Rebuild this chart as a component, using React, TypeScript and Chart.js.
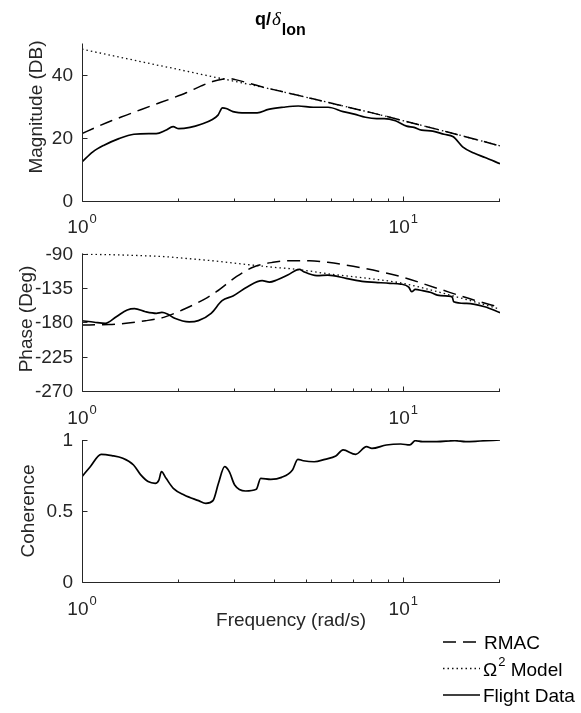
import React, { useEffect, useRef } from 'react';
import { Chart, registerables } from 'chart.js';

Chart.register(...registerables);

const FONT_FAMILY = '"Liberation Sans", Arial, Helvetica, sans-serif';
const INK = '#262626';
const LINE = '#000000';

// Shared log frequency axis (rad/s)
const freqMin = 1;
const freqMax = 20;
const freqMajorTicks = [1, 10];
const freqMajorExponents = ['0', '1'];
const freqMinorTicks = [2, 3, 4, 5, 6, 7, 8, 9, 20];

// Magnitude panel (dB)
const magTicks = [0, 20, 40];
const magTickLabels = ['0', '20', '40'];
const magModelFreq = [1.0, 1.11, 1.235, 1.375, 1.53, 1.7, 1.9, 2.11, 2.35, 2.55, 2.76, 2.85, 3.0, 3.6, 4.7, 6.2, 8.0, 10.1, 13.75, 20];
const magRmac = [21.3, 23.4, 25.4, 27.2, 29.0, 30.7, 32.5, 34.3, 36.5, 37.9, 38.7, 38.9, 38.5, 36.3, 33.5, 30.6, 27.9, 25.3, 21.8, 17.4];
const magOmega2 = [48.2, 47.2, 46.2, 45.2, 44.2, 43.2, 42.2, 41.2, 40.2, 39.4, 38.7, 38.4, 37.9, 36.2, 33.5, 30.6, 27.9, 25.3, 21.8, 17.4];
const magFlightFreq = [1.0, 1.081, 1.171, 1.303, 1.451, 1.615, 1.703, 1.822, 1.921, 2.001, 2.168, 2.349, 2.546, 2.65, 2.737, 2.811, 2.95, 3.239, 3.51, 3.804, 4.234, 4.712, 5.245, 5.837, 6.497, 7.04, 7.63, 8.265, 8.72, 9.452, 10.24, 10.8, 11.4, 12.35, 13.39, 14.31, 15.3, 16.58, 17.97, 20.0];
const magFlight = [12.3, 15.5, 17.6, 19.7, 21.1, 21.3, 21.3, 22.4, 23.5, 22.9, 23.3, 24.3, 25.8, 27.2, 29.5, 29.3, 28.3, 27.9, 27.9, 29.0, 29.7, 30.1, 29.7, 29.7, 28.3, 27.5, 26.5, 26.1, 26.1, 25.4, 23.7, 23.3, 22.4, 22.1, 21.1, 20.3, 17.1, 15.1, 13.7, 11.7];

// Phase panel (deg)
const phaseTicks = [-90, -135, -180, -225, -270];
const phaseTickLabels = ['-90', '-135', '-180', '-225', '-270'];
const phaseModelFreq = [1.0, 1.213, 1.576, 1.796, 2.05, 2.4, 2.62, 3.03, 3.45, 3.93, 4.48, 5.11, 5.82, 7.56, 9.82, 12.76, 16.57, 20];
const phaseRmac = [-183.5, -183, -178, -173.6, -164, -150, -140, -120, -107, -101.6, -99.4, -99.4, -101.6, -109.4, -120.3, -135.6, -150.9, -160.5];
const phaseOmega2 = [-91, -91.5, -93, -94, -96, -98.5, -100, -103, -105.5, -108, -110, -113, -116.5, -122, -128.5, -140, -153, -163];
const phaseFlightFreq = [1.0, 1.093, 1.182, 1.279, 1.383, 1.457, 1.576, 1.704, 1.773, 1.844, 1.943, 2.157, 2.302, 2.523, 2.729, 2.951, 3.277, 3.637, 3.832, 4.038, 4.368, 4.75, 4.9, 5.384, 5.824, 6.636, 7.562, 8.181, 9.084, 9.822, 10.4, 10.62, 10.9, 11.49, 12.2, 12.76, 13.8, 14.2, 14.35, 15.73, 17.92, 20];
const phaseFlight = [-178, -180, -181.4, -172.7, -164, -162.2, -166.2, -168.3, -167.2, -169.2, -174.8, -179.5, -177.9, -168.3, -151.7, -145.6, -133.4, -125.6, -127.5, -124.7, -118.2, -110.7, -113.8, -119, -118.2, -122.5, -126.9, -127.8, -129.1, -130, -134, -140, -137, -138.7, -141, -144.4, -145.7, -147, -153.1, -155.3, -159.7, -167.4];

// Coherence panel
const cohTicks = [0, 0.5, 1];
const cohTickLabels = ['0', '0.5', '1'];
const cohFreq = [1.0, 1.061, 1.147, 1.239, 1.34, 1.447, 1.524, 1.606, 1.691, 1.735, 1.767, 1.827, 1.924, 2.08, 2.306, 2.429, 2.557, 2.659, 2.779, 2.873, 2.987, 3.228, 3.488, 3.599, 3.869, 4.181, 4.519, 4.697, 4.885, 5.279, 5.705, 6.166, 6.494, 7.108, 7.682, 7.985, 8.859, 9.819, 10.48, 10.89, 11.47, 12.72, 14.47, 15.64, 17.35, 20];
const cohFlight = [0.742, 0.812, 0.899, 0.89, 0.871, 0.824, 0.754, 0.707, 0.695, 0.718, 0.777, 0.73, 0.66, 0.613, 0.573, 0.554, 0.573, 0.695, 0.812, 0.777, 0.683, 0.641, 0.653, 0.73, 0.723, 0.737, 0.789, 0.864, 0.854, 0.847, 0.864, 0.887, 0.93, 0.899, 0.953, 0.941, 0.965, 0.972, 0.965, 0.995, 0.988, 0.988, 0.995, 0.988, 0.993, 1.0];

// Series names
const seriesRmac = 'RMAC';
const seriesOmega = 'Model';
const seriesFlight = 'Flight Data';

const rmacStyle = { borderColor: LINE, borderWidth: 1.5, borderDash: [13, 7], cubicInterpolationMode: 'monotone' as const };
const omegaStyle = { borderColor: '#111111', borderWidth: 1.3, borderDash: [1.5, 3], cubicInterpolationMode: 'monotone' as const };
const flightStyle = { borderColor: LINE, borderWidth: 1.7, cubicInterpolationMode: 'monotone' as const };

const toPoints = (xs: number[], ys: number[]) => xs.map((x, i) => ({ x, y: ys[i] }));

const CANVAS_W = 581;
const AREA_LEFT = 82;
const AREA_RIGHT = 500;

type Panel = {
  key: string;
  top: number;
  height: number;
  areaTop: number; // page coordinates
  areaBottom: number;
  yMin: number;
  yMax: number;
  yTicks: number[];
  yTickLabels: string[];
  yTitle: string;
  yTitleBaselineX: number;
  yTitleCenterY: number; // page coordinates
  datasets: any[];
  extra?: (ctx: CanvasRenderingContext2D, chart: Chart, panel: Panel) => void;
};

function drawPow10(ctx: CanvasRenderingContext2D, cx: number, baseline: number, exp: string) {
  ctx.font = `19px ${FONT_FAMILY}`;
  const wBase = ctx.measureText('10').width;
  ctx.font = `13px ${FONT_FAMILY}`;
  const wExp = ctx.measureText(exp).width;
  const x0 = cx - (wBase + wExp + 1) / 2;
  ctx.textAlign = 'left';
  ctx.textBaseline = 'alphabetic';
  ctx.font = `19px ${FONT_FAMILY}`;
  ctx.fillText('10', x0, baseline);
  ctx.font = `13px ${FONT_FAMILY}`;
  ctx.fillText(exp, x0 + wBase + 1, baseline - 10);
}

function drawTitle(ctx: CanvasRenderingContext2D) {
  ctx.save();
  ctx.fillStyle = '#000';
  ctx.textAlign = 'left';
  ctx.textBaseline = 'alphabetic';
  let x = 255;
  ctx.font = `bold 18px ${FONT_FAMILY}`;
  ctx.fillText('q/', x, 25);
  x += ctx.measureText('q/').width + 1;
  ctx.font = 'italic 19px "Liberation Serif", "DejaVu Serif", serif';
  ctx.fillText('δ', x, 25);
  x += ctx.measureText('δ').width + 1;
  ctx.font = `bold 16px ${FONT_FAMILY}`;
  ctx.fillText('lon', x, 35);
  ctx.restore();
}

function drawLegendAndLabel(ctx: CanvasRenderingContext2D, chart: Chart, panel: Panel) {
  const off = panel.top;
  ctx.save();
  ctx.fillStyle = INK;
  ctx.font = `19px ${FONT_FAMILY}`;
  ctx.textAlign = 'center';
  ctx.textBaseline = 'alphabetic';
  const { left, right } = chart.chartArea;
  ctx.fillText('Frequency (rad/s)', (left + right) / 2, 626 - off);

  const rows = [
    { y: 642, style: rmacStyle, end: 477 },
    { y: 668.5, style: omegaStyle, end: 480 },
    { y: 695, style: flightStyle, end: 480 },
  ];
  const x0 = 443;
  rows.forEach((r) => {
    ctx.save();
    ctx.strokeStyle = r.style.borderColor;
    ctx.lineWidth = r.style.borderWidth;
    ctx.setLineDash((r.style as any).borderDash || []);
    ctx.beginPath();
    ctx.moveTo(x0, r.y - off);
    ctx.lineTo(r.end, r.y - off);
    ctx.stroke();
    ctx.restore();
  });
  ctx.fillStyle = '#000';
  ctx.textAlign = 'left';
  ctx.font = `19px ${FONT_FAMILY}`;
  const tx = 484;
  ctx.fillText(seriesRmac, tx, 642 + 7 - off);
  ctx.fillText('Ω', tx - 1, 668.5 + 7 - off);
  const wO = ctx.measureText('Ω').width;
  ctx.font = `13px ${FONT_FAMILY}`;
  ctx.fillText('2', tx + wO, 668.5 - 3 - off);
  const w2 = ctx.measureText('2').width;
  ctx.font = `19px ${FONT_FAMILY}`;
  ctx.fillText(' ' + seriesOmega, tx + wO + w2, 668.5 + 7 - off);
  ctx.fillText(seriesFlight, tx - 1, 695 + 7 - off);
  ctx.restore();
}

function decorPlugin(panel: Panel) {
  return {
    id: 'axesDecor_' + panel.key,
    afterDraw(chart: Chart) {
      const ctx = chart.ctx;
      const xs = chart.scales.x;
      const ys = chart.scales.y;
      const { left, right, top, bottom } = chart.chartArea;
      const off = panel.top;
      ctx.save();
      ctx.strokeStyle = INK;
      ctx.fillStyle = INK;
      ctx.lineWidth = 1;
      ctx.setLineDash([]);
      const lx = Math.round(left) + 0.5;
      const by = Math.round(bottom) + 0.5;
      ctx.beginPath();
      ctx.moveTo(lx, top);
      ctx.lineTo(lx, by);
      ctx.lineTo(right, by);
      ctx.stroke();

      // ticks pointing into the plot
      ctx.beginPath();
      freqMajorTicks.forEach((f) => {
        const x = Math.round(xs.getPixelForValue(f)) + 0.5;
        ctx.moveTo(x, by);
        ctx.lineTo(x, by - 5);
      });
      freqMinorTicks.forEach((f) => {
        const x = Math.round(xs.getPixelForValue(f)) - 0.5;
        ctx.moveTo(x, by);
        ctx.lineTo(x, by - 3);
      });
      panel.yTicks.forEach((v) => {
        const y = Math.round(ys.getPixelForValue(v)) + 0.5;
        ctx.moveTo(lx, y);
        ctx.lineTo(lx + 5, y);
      });
      ctx.stroke();

      // y tick labels
      ctx.font = `19px ${FONT_FAMILY}`;
      ctx.textAlign = 'right';
      ctx.textBaseline = 'middle';
      panel.yTicks.forEach((v, i) => {
        ctx.fillText(panel.yTickLabels[i], left - 9, ys.getPixelForValue(v) + 1);
      });

      // x tick labels 10^n
      freqMajorTicks.forEach((f, i) => {
        drawPow10(ctx, xs.getPixelForValue(f), bottom + 32.5, freqMajorExponents[i]);
      });

      // y axis title
      ctx.save();
      ctx.font = `19px ${FONT_FAMILY}`;
      ctx.textAlign = 'center';
      ctx.textBaseline = 'alphabetic';
      ctx.translate(panel.yTitleBaselineX, panel.yTitleCenterY - off);
      ctx.rotate(-Math.PI / 2);
      ctx.fillText(panel.yTitle, 0, 0);
      ctx.restore();

      ctx.restore();
      if (panel.extra) panel.extra(ctx, chart, panel);
    },
  };
}

const panels: Panel[] = [
  {
    key: 'mag',
    top: 0,
    height: 240,
    areaTop: 43.5,
    areaBottom: 200.5,
    yMin: 0,
    yMax: 50,
    yTicks: magTicks,
    yTickLabels: magTickLabels,
    yTitle: 'Magnitude (DB)',
    yTitleBaselineX: 42,
    yTitleCenterY: 107,
    datasets: [
      { label: seriesFlight, data: toPoints(magFlightFreq, magFlight), ...flightStyle, order: 0 },
      { label: seriesRmac, data: toPoints(magModelFreq, magRmac), ...rmacStyle, order: 1 },
      { label: seriesOmega, data: toPoints(magModelFreq, magOmega2), ...omegaStyle, order: 2 },
    ],
    extra: (ctx) => drawTitle(ctx),
  },
  {
    key: 'phase',
    top: 240,
    height: 190,
    areaTop: 253.5,
    areaBottom: 391,
    yMin: -270,
    yMax: -90,
    yTicks: phaseTicks,
    yTickLabels: phaseTickLabels,
    yTitle: 'Phase (Deg)',
    yTitleBaselineX: 31.5,
    yTitleCenterY: 319,
    datasets: [
      { label: seriesFlight, data: toPoints(phaseFlightFreq, phaseFlight), ...flightStyle, order: 0 },
      { label: seriesRmac, data: toPoints(phaseModelFreq, phaseRmac), ...rmacStyle, order: 1 },
      { label: seriesOmega, data: toPoints(phaseModelFreq, phaseOmega2), ...omegaStyle, order: 2 },
    ],
  },
  {
    key: 'coh',
    top: 430,
    height: 283,
    areaTop: 440,
    areaBottom: 582,
    yMin: 0,
    yMax: 1,
    yTicks: cohTicks,
    yTickLabels: cohTickLabels,
    yTitle: 'Coherence',
    yTitleBaselineX: 33.5,
    yTitleCenterY: 511,
    datasets: [{ label: seriesFlight, data: toPoints(cohFreq, cohFlight), ...flightStyle, order: 0 }],
    extra: drawLegendAndLabel,
  },
];

function PanelChart({ panel }: { panel: Panel }) {
  const ref = useRef<HTMLCanvasElement | null>(null);
  useEffect(() => {
    if (!ref.current) return;
    const chart = new Chart(ref.current, {
      type: 'line',
      data: { datasets: panel.datasets },
      options: {
        responsive: false,
        animation: false,
        devicePixelRatio: 1,
        events: [],
        layout: {
          padding: {
            left: AREA_LEFT,
            right: CANVAS_W - AREA_RIGHT,
            top: panel.areaTop - panel.top,
            bottom: panel.top + panel.height - panel.areaBottom,
          },
        },
        plugins: {
          legend: { display: false },
          title: { display: false },
          tooltip: { enabled: false },
        },
        elements: { point: { radius: 0 } },
        scales: {
          x: { type: 'logarithmic', min: freqMin, max: freqMax, display: false },
          y: { type: 'linear', min: panel.yMin, max: panel.yMax, display: false },
        },
      },
      plugins: [decorPlugin(panel)],
    } as any);
    return () => chart.destroy();
  }, [panel]);
  return (
    <canvas
      ref={ref}
      width={CANVAS_W}
      height={panel.height}
      style={{ position: 'absolute', left: 0, top: panel.top, width: CANVAS_W, height: panel.height, display: 'block' }}
    />
  );
}

export default function App() {
  return (
    <div style={{ position: 'fixed', left: 0, top: 0, width: CANVAS_W, height: 713, background: '#ffffff' }}>
      {panels.map((p) => (
        <PanelChart key={p.key} panel={p} />
      ))}
    </div>
  );
}
